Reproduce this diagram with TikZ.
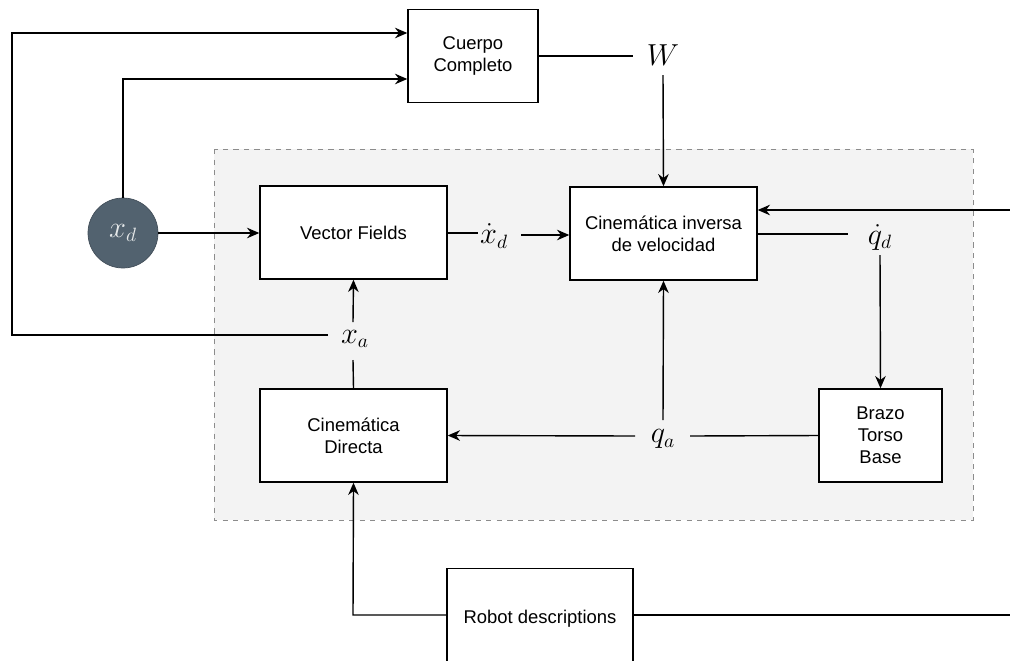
\documentclass[tikz,border=0pt]{standalone}
\usepackage{fontspec}
\setmainfont{Liberation Sans}
\usetikzlibrary{arrows.meta}
\definecolor{slate}{HTML}{52626F}
\definecolor{regionfill}{HTML}{F3F3F3}
\definecolor{regionline}{HTML}{8C8C8C}
\tikzset{
  blk/.style={draw=black, fill=white, line width=0.8pt, font=\fontsize{10.5}{12.5}\selectfont, align=center, inner sep=0pt},
  lbl/.style={inner sep=1pt, font=\fontsize{16}{19}\selectfont},
  conn/.style={line width=0.8pt, draw=black},
  arr/.style={conn, -{Stealth[length=7pt,width=6pt]}},
}
\begin{document}
\begin{tikzpicture}[x=0.2mm,y=-0.2mm]
\useasboundingbox (0,0) rectangle (1010,660);
% region
\draw[regionline, fill=regionfill, dashed, line width=0.5pt] (214,149) rectangle (973,520);
% blocks
\node[blk, minimum width=26mm, minimum height=18.6mm] (cc) at (473,56) {Cuerpo\\Completo};
\node[blk, minimum width=37.4mm, minimum height=18.6mm] (vf) at (353.5,232.5) {Vector Fields};
\node[blk, minimum width=37.4mm, minimum height=18.6mm] (ci) at (663.5,233.5) {Cinemática inversa\\de velocidad};
\node[blk, minimum width=37.4mm, minimum height=18.6mm] (cd) at (353.5,435.5) {Cinemática\\Directa};
\node[blk, minimum width=24.6mm, minimum height=18.6mm] (bt) at (880.5,435.5) {Brazo\\Torso\\Base};
\node[blk, minimum width=37.2mm, minimum height=20mm, anchor=north] (rd) at (540,568) {Robot descriptions};
% circle
\node[circle, fill=slate, draw=slate!80!black, line width=0.4pt, minimum size=14mm, inner sep=0pt, text=white!85!slate, font=\fontsize{16}{19}\selectfont] (xd) at (123,233) {$x_d$};
% labels
\node[lbl] (W) at (663,55) {$W$};
\node[lbl] (dxd) at (494,236) {$\dot{x}_d$};
\node[lbl] (dqd) at (880,237) {$\dot{q}_d$};
\node[lbl] (qa) at (663,439) {$q_a$};
\node[lbl] (xa) at (355,339) {$x_a$};
% helper coordinates
\coordinate (tl) at (12,33);
\coordinate (bl) at (12,335);
\coordinate (xaL) at (328,335);
\coordinate (up) at (123,79);
\coordinate (rin) at (1010,210);
\coordinate (rout) at (1010,615);
\coordinate (rdl) at (353,615);
\coordinate (wL) at (633,56);
\coordinate (wB) at (663,75);
\coordinate (dxL) at (478,233);
\coordinate (dxR) at (521,235);
\coordinate (dqL) at (848,234);
\coordinate (dqB) at (880,255);
\coordinate (qaR) at (690,436);
\coordinate (qaL) at (635,436);
\coordinate (qaT) at (663,420);
\coordinate (xaT) at (353,322);
\coordinate (xaB) at (353,360);
% connectors
\draw[arr] (xaL) -- (bl) -- (tl) -- (tl -| cc.west);
\draw[arr] (xd.north) -- (up) -- (up -| cc.west);
\draw[conn] (cc.east |- wL) -- (wL);
\draw[arr] (wB) -- (ci.north);
\draw[arr] (xd.east) -- (xd.east -| vf.west);
\draw[conn] (vf.east |- dxL) -- (dxL);
\draw[arr] (dxR) -- (dxR -| ci.west);
\draw[arr] (rin) -- (rin -| ci.east);
\draw[conn] (ci.east |- dqL) -- (dqL);
\draw[arr] (dqB) -- (bt.north);
\draw[conn] (bt.west) -- (qaR);
\draw[arr] (qaL) -- (cd.east);
\draw[arr] (qaT) -- (ci.south);
\draw[arr] (xaT) -- (vf.south);
\draw[conn] (cd.north) -- (xaB);
\draw[arr] (rd.west |- rdl) -- (rdl) -- (cd.south);
\draw[conn] (rd.east |- rout) -- (rout);
\end{tikzpicture}
\end{document}
